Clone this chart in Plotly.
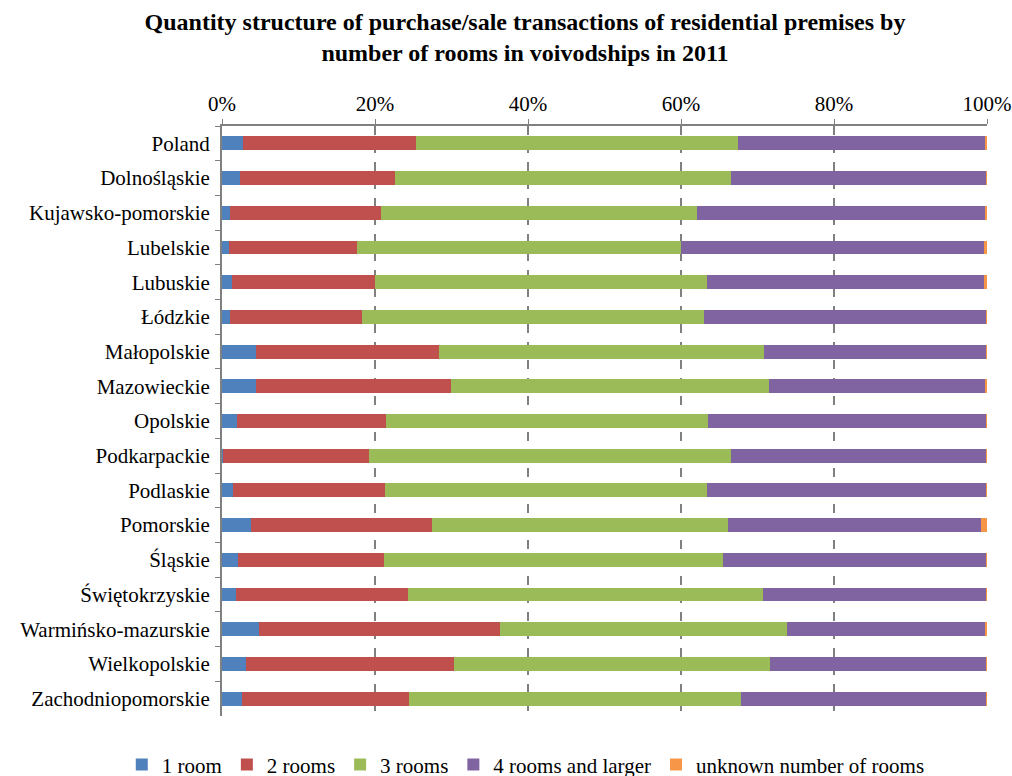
import plotly.graph_objects as go

regions = ["Poland", "Dolnośląskie", "Kujawsko-pomorskie", "Lubelskie", "Lubuskie",
           "Łódzkie", "Małopolskie", "Mazowieckie", "Opolskie", "Podkarpackie",
           "Podlaskie", "Pomorskie", "Śląskie", "Świętokrzyskie",
           "Warmińsko-mazurskie", "Wielkopolskie", "Zachodniopomorskie"]

room1 = [2.8, 2.3, 1.0, 0.9, 1.35, 1.1, 4.5, 4.5, 1.9, 0.1, 1.5, 3.75, 2.05, 1.8, 4.9, 3.2, 2.65]
room2 = [22.5, 20.3, 19.8, 16.7, 18.65, 17.2, 23.9, 25.4, 19.6, 19.1, 19.8, 23.75, 19.15, 22.5, 31.4, 27.1, 21.75]
room3 = [42.1, 43.9, 41.3, 42.4, 43.4, 44.7, 42.5, 41.6, 42.0, 47.3, 42.1, 38.7, 44.3, 46.4, 37.6, 41.3, 43.4]
room4 = [32.3, 33.4, 37.6, 39.6, 36.2, 36.95, 29.05, 28.2, 36.45, 33.45, 36.55, 33.0, 34.4, 29.2, 25.8, 28.3, 32.15]
unknown = [0.3, 0.1, 0.3, 0.4, 0.4, 0.05, 0.05, 0.3, 0.05, 0.05, 0.05, 0.8, 0.1, 0.1, 0.3, 0.1, 0.05]

series = [
    ("1 room", room1, "#4F81BD"),
    ("2 rooms", room2, "#C0504D"),
    ("3 rooms", room3, "#9BBB59"),
    ("4 rooms and larger", room4, "#8064A2"),
    ("unknown number of rooms", unknown, "#F79646"),
]

FONT = "Liberation Serif, Times New Roman, serif"

fig = go.Figure()
for name, vals, color in series:
    fig.add_trace(go.Bar(
        y=regions, x=vals, name=name, orientation="h",
        marker=dict(color=color, line=dict(width=0)),
    ))

fig.update_layout(
    barmode="stack",
    barnorm="percent",
    bargap=0.6,
    width=1012, height=776,
    margin=dict(l=222, r=25, t=126, b=60, autoexpand=False),
    plot_bgcolor="white", paper_bgcolor="white",
    font=dict(family=FONT, size=21, color="black"),
    title=dict(
        text="<b>Quantity structure of purchase/sale transactions of residential premises by<br>number of rooms in voivodships in 2011</b>",
        x=525/1012, xref="container", xanchor="center",
        y=1 - 30/776, yref="container", yanchor="top",
        font=dict(family=FONT, size=24, color="black"),
    ),
    legend=dict(
        orientation="h", xref="paper", yref="paper",
        x=-0.131, xanchor="left", y=-0.048, yanchor="top",
        font=dict(family=FONT, size=21), traceorder="normal",
        itemwidth=30, tracegroupgap=0,
    ),
    showlegend=True,
)

fig.update_xaxes(
    side="top", range=[0, 100], automargin=False,
    tickvals=[0, 20, 40, 60, 80, 100],
    ticktext=["0%", "20%", "40%", "60%", "80%", "100%"],
    showgrid=True, gridcolor="#808080", griddash="dash", gridwidth=1.5,
    showline=True, linecolor="#808080", linewidth=1.5,
    ticks="outside", ticklen=5, tickcolor="#808080",
    zeroline=False,
)
fig.update_yaxes(
    autorange="reversed", automargin=False,
    showline=True, linecolor="#808080", linewidth=2,
    ticks="outside", ticklen=5, tickcolor="#808080",
    tickson="boundaries",
    showgrid=False,
    ticklabelstandoff=6,
)

fig.write_html("out.html", config={"displayModeBar": False},
               post_script="document.body.style.margin='0';document.body.style.overflow='hidden';")
